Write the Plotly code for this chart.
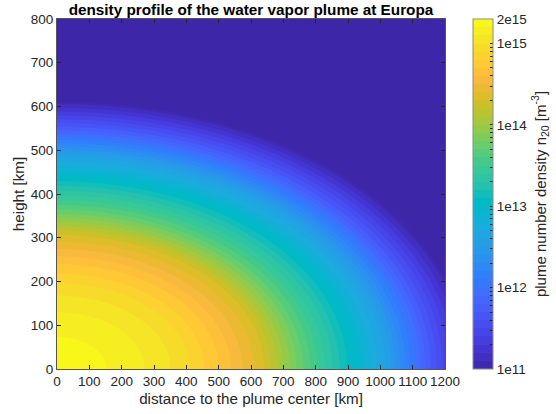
import numpy as np
import plotly.graph_objects as go

# Radial profile of log10 number density [m^-3] versus normalised
# elliptical radius rho = sqrt((d/A)^2 + (h/B)^2)
rho_profile = [0.0, 0.1, 0.2, 0.3, 0.4, 0.5, 0.6, 0.7, 0.8, 0.9, 1.0]
log_n_profile = [15.30, 15.22, 15.12, 14.96, 14.68, 14.32, 13.68, 13.12, 12.58, 11.75, 11.05]

# Plume extent: horizontal and vertical semi-axes [km]
plume_half_width_km = 1275.0
plume_top_km = 610.0

# Background density outside the plume [m^-3]
background_density = 1e11

# Colour range of the density scale
n_min, n_max = 1e11, 2e15

# Axis ticks
x_ticks = list(range(0, 1201, 100))
y_ticks = list(range(0, 801, 100))
cb_major = [1e11, 1e12, 1e13, 1e14, 1e15, 2e15]
cb_major_text = ["1e11", "1e12", "1e13", "1e14", "1e15", "2e15"]

# Evaluation grid
distance_km = np.linspace(0, 1200, 481)
height_km = np.linspace(0, 800, 321)
D, H = np.meshgrid(distance_km, height_km)
rho = np.sqrt((D / plume_half_width_km) ** 2 + (H / plume_top_km) ** 2)
log_n = np.interp(rho, rho_profile, log_n_profile)
log_n = np.where(rho > 1.0, np.log10(background_density), log_n)

parula = [
    [0.2422, 0.1504, 0.6603], [0.2504, 0.1650, 0.7076], [0.2578, 0.1818, 0.7511],
    [0.2647, 0.1978, 0.7952], [0.2706, 0.2147, 0.8364], [0.2751, 0.2342, 0.8710],
    [0.2783, 0.2559, 0.8991], [0.2803, 0.2782, 0.9221], [0.2813, 0.3006, 0.9414],
    [0.2810, 0.3228, 0.9579], [0.2795, 0.3447, 0.9717], [0.2760, 0.3667, 0.9829],
    [0.2699, 0.3892, 0.9906], [0.2602, 0.4123, 0.9952], [0.2440, 0.4358, 0.9988],
    [0.2206, 0.4603, 0.9973], [0.1963, 0.4847, 0.9892], [0.1834, 0.5074, 0.9798],
    [0.1786, 0.5289, 0.9682], [0.1764, 0.5499, 0.9520], [0.1687, 0.5703, 0.9359],
    [0.1540, 0.5902, 0.9218], [0.1460, 0.6091, 0.9079], [0.1380, 0.6276, 0.8973],
    [0.1248, 0.6459, 0.8883], [0.1113, 0.6635, 0.8763], [0.0952, 0.6798, 0.8598],
    [0.0689, 0.6948, 0.8394], [0.0297, 0.7082, 0.8163], [0.0036, 0.7203, 0.7917],
    [0.0067, 0.7312, 0.7660], [0.0433, 0.7411, 0.7394], [0.0964, 0.7500, 0.7120],
    [0.1408, 0.7584, 0.6842], [0.1717, 0.7670, 0.6554], [0.1938, 0.7758, 0.6251],
    [0.2161, 0.7843, 0.5923], [0.2470, 0.7918, 0.5567], [0.2906, 0.7973, 0.5188],
    [0.3406, 0.8008, 0.4789], [0.3909, 0.8029, 0.4354], [0.4456, 0.8024, 0.3909],
    [0.5044, 0.7993, 0.3480], [0.5616, 0.7942, 0.3045], [0.6174, 0.7876, 0.2612],
    [0.6720, 0.7793, 0.2227], [0.7242, 0.7698, 0.1910], [0.7738, 0.7598, 0.1646],
    [0.8203, 0.7498, 0.1535], [0.8634, 0.7406, 0.1596], [0.9035, 0.7330, 0.1774],
    [0.9393, 0.7288, 0.2100], [0.9728, 0.7298, 0.2394], [0.9956, 0.7434, 0.2371],
    [0.9970, 0.7659, 0.2199], [0.9952, 0.7893, 0.2028], [0.9892, 0.8136, 0.1885],
    [0.9786, 0.8386, 0.1766], [0.9676, 0.8639, 0.1643], [0.9610, 0.8890, 0.1537],
    [0.9597, 0.9135, 0.1423], [0.9628, 0.9373, 0.1265], [0.9691, 0.9606, 0.1064],
    [0.9769, 0.9839, 0.0805],
]
colorscale = [
    [i / (len(parula) - 1), "rgb(%d,%d,%d)" % tuple(round(255 * c) for c in rgb)]
    for i, rgb in enumerate(parula)
]

# Colourbar ticks: labelled decades plus unlabelled minor ticks
cb_vals, cb_text = [], []
for v, t in zip(cb_major, cb_major_text):
    cb_vals.append(np.log10(v))
    cb_text.append(t)
for dec in range(11, 15):
    for m in range(2, 10):
        cb_vals.append(np.log10(m * 10.0 ** dec))
        cb_text.append("")

font_family = "Liberation Sans, Arial, sans-serif"
ink = "#262626"

fig = go.Figure(
    go.Contour(
        x=distance_km,
        y=height_km,
        z=log_n,
        colorscale=colorscale,
        zmin=np.log10(n_min),
        zmax=np.log10(n_max),
        zauto=False,
        contours=dict(coloring="fill", start=11.0, end=15.3, size=0.1, showlines=False),
        line=dict(width=0),
        hoverinfo="skip",
        colorbar=dict(
            x=1.072,
            xanchor="left",
            xref="paper",
            xpad=0,
            y=0.5,
            yanchor="middle",
            ypad=0,
            len=1.0,
            lenmode="fraction",
            thickness=20,
            thicknessmode="pixels",
            outlinewidth=1,
            outlinecolor="#8c8c8c",
            tickmode="array",
            tickvals=cb_vals,
            ticktext=cb_text,
            ticks="inside",
            ticklen=3,
            tickcolor=ink,
            tickfont=dict(family=font_family, size=13.5, color=ink),
            title=dict(
                text="plume number density n<sub>20</sub> [m<sup>-3</sup>]",
                side="right",
                font=dict(family=font_family, size=15, color=ink),
            ),
        ),
    )
)

fig.update_layout(
    width=556,
    height=414,
    margin=dict(l=57, r=111, t=19, b=45, autoexpand=False),
    paper_bgcolor="white",
    plot_bgcolor="white",
    title=dict(
        text="<b>density profile of the water vapor plume at Europa</b>",
        x=0.5,
        xref="paper",
        xanchor="center",
        y=1 - 10 / 414,
        yref="container",
        yanchor="middle",
        font=dict(family=font_family, size=15.3, color="black"),
    ),
)

axis_common = dict(
    showgrid=False,
    zeroline=False,
    showline=True,
    linecolor="#555555",
    linewidth=1,
    mirror="ticks",
    ticks="inside",
    ticklen=4,
    tickcolor=ink,
    tickangle=0,
    tickfont=dict(family=font_family, size=13.5, color=ink),
    title_font=dict(family=font_family, size=15.2, color=ink),
)

fig.update_xaxes(
    range=[0, 1200],
    tickmode="array",
    tickvals=x_ticks,
    ticktext=[str(v) for v in x_ticks],
    title_text="distance to the plume center [km]",
    title_standoff=5,
    **axis_common,
)
fig.update_yaxes(
    range=[0, 800],
    tickmode="array",
    tickvals=y_ticks,
    ticktext=[str(v) for v in y_ticks],
    title_text="height [km]",
    title_standoff=2,
    **axis_common,
)

fig.write_html("out.html")
